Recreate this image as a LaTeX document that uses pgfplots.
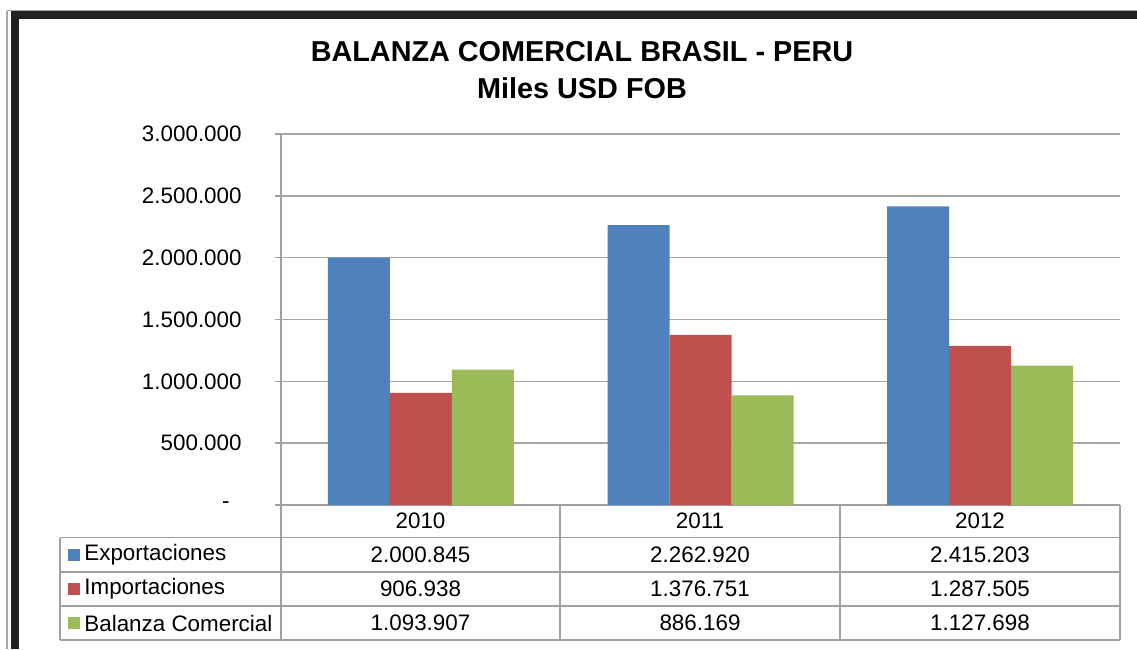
\documentclass[border=0pt]{standalone}
\usepackage{fontspec}
\setmainfont{Liberation Sans}
\usepackage{pgfplots}
\usepackage{pgfplotstable}
\pgfplotsset{compat=1.18}
\definecolor{cExp}{HTML}{4F81BD}
\definecolor{cImp}{HTML}{C0504D}
\definecolor{cBal}{HTML}{9BBB59}
\definecolor{gridc}{HTML}{A6A6A6}
\definecolor{tabc}{HTML}{A0A0A0}
\definecolor{framec}{HTML}{231F20}

\pgfplotstableread{
x exp imp bal
0.5 2000845 906938 1093907
1.5 2262920 1376751 886169
2.5 2415203 1287505 1127698
}\datatab

\newcommand\tfont{\fontsize{11.2bp}{13bp}\selectfont}

\begin{document}
\begin{tikzpicture}
\begin{scope}[x=0.5bp,y=-0.5bp]
\useasboundingbox (0,0) rectangle (1137,649);
% frame
\draw[gray!70, line width=0.6bp] (7,11) -- (7,649);
\draw[gray!70, line width=0.6bp] (7,10.5) -- (1137,10.5);
\fill[framec] (11,11) rectangle (1137,19);
\fill[framec] (11,11) rectangle (19,649);
% title
\node[font=\bfseries\fontsize{14.4bp}{17bp}\selectfont] at (582,52) {BALANZA COMERCIAL BRASIL - PERU};
\node[font=\bfseries\fontsize{14.4bp}{17bp}\selectfont] at (582,88) {Miles USD FOB};
% data table grid
\begin{scope}[draw=tabc, line width=0.9bp]
\foreach \yy in {537.5,572,606,640} \draw (60,\yy) -- (1120,\yy);
\draw (60,537.5) -- (60,640);
\foreach \xx in {281,560,840,1120} \draw (\xx,505) -- (\xx,640);
\end{scope}
% header
\node[font=\tfont] at (420.5,521) {2010};
\node[font=\tfont] at (700,521) {2011};
\node[font=\tfont] at (980,521) {2012};
% legend keys & names
\fill[cExp] (68,549) rectangle (80,561);
\fill[cImp] (68,583) rectangle (80,595);
\fill[cBal] (68,617) rectangle (80,629);
\node[font=\tfont, anchor=west, inner sep=0pt] at (84,555) {Exportaciones};
\node[font=\tfont, anchor=west, inner sep=0pt] at (84,589) {Importaciones};
\node[font=\tfont, anchor=west, inner sep=0pt] at (84,623) {Balanza Comercial};
% values
\node[font=\tfont] at (420.5,555) {2.000.845};
\node[font=\tfont] at (700,555) {2.262.920};
\node[font=\tfont] at (980,555) {2.415.203};
\node[font=\tfont] at (420.5,589) {906.938};
\node[font=\tfont] at (700,589) {1.376.751};
\node[font=\tfont] at (980,589) {1.287.505};
\node[font=\tfont] at (420.5,623) {1.093.907};
\node[font=\tfont] at (700,623) {886.169};
\node[font=\tfont] at (980,623) {1.127.698};
\end{scope}

\begin{axis}[
  at={(140.5bp,-252.5bp)}, anchor=south west,
  scale only axis, width=419.5bp, height=185.5bp,
  xmin=0, xmax=3, ymin=0, ymax=3000000,
  axis x line*=bottom, axis y line*=left,
  axis line style={draw=tabc, line width=0.8bp, -},
  xtick=\empty,
  ytick={0,500000,1000000,1500000,2000000,2500000,3000000},
  yticklabels={{-\rule{6bp}{0pt}},500.000,1.000.000,1.500.000,2.000.000,2.500.000,3.000.000},
  scaled y ticks=false,
  tick align=outside, major tick length=3bp,
  tick style={draw=tabc, line width=0.8bp},
  ymajorgrids, grid style={draw=gridc, line width=0.7bp},
  yticklabel style={font=\tfont, anchor=east, inner sep=0pt, xshift=-16.5bp},
  ybar=0pt, bar width=0.2217,
  clip=false,
]
\addplot[fill=cExp, draw=none, bar shift=-0.2217] table[x=x, y=exp] {\datatab};
\addplot[fill=cImp, draw=none, bar shift=0] table[x=x, y=imp] {\datatab};
\addplot[fill=cBal, draw=none, bar shift=0.2217] table[x=x, y=bal] {\datatab};
\end{axis}
\end{tikzpicture}
\end{document}
